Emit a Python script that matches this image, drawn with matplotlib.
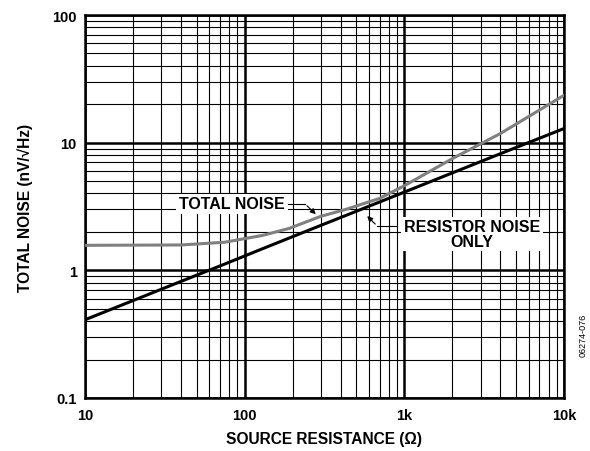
import matplotlib
matplotlib.use("Agg")
import matplotlib.pyplot as plt
from matplotlib.ticker import LogLocator, NullFormatter

plt.rcParams['font.family'] = ['Liberation Sans', 'DejaVu Sans']

# values (source resistance in ohms, noise in nV/rtHz)
resistance = [10, 40, 75, 130, 190, 300, 430, 700, 1000, 2000, 4000, 10000]
resistor_noise = [0.41, 0.82, 1.12, 1.48, 1.79, 2.25, 2.69, 3.43, 4.1, 5.8, 8.2, 12.9]
total_noise = [1.57, 1.58, 1.66, 1.88, 2.13, 2.65, 3.0, 3.66, 4.6, 7.5, 11.8, 23.5]

xticks = [10, 100, 1000, 10000]
xticklabels = ['10', '100', '1k', '10k']
yticks = [0.1, 1, 10, 100]
yticklabels = ['0.1', '1', '10', '100']

fig = plt.figure(figsize=(5.9, 4.52), dpi=100)
ax = fig.add_axes([85/590, 1 - 399/452, 479/590, 383/452])

ax.set_xscale('log')
ax.set_yscale('log')
ax.set_xlim(10, 10000)
ax.set_ylim(0.1, 100)

ax.xaxis.set_minor_locator(LogLocator(base=10, subs=range(2, 10)))
ax.yaxis.set_minor_locator(LogLocator(base=10, subs=range(2, 10)))
ax.xaxis.set_minor_formatter(NullFormatter())
ax.yaxis.set_minor_formatter(NullFormatter())
ax.grid(which='major', color='black', lw=1.8)
ax.grid(which='minor', color='black', lw=0.8)
ax.set_axisbelow(True)
ax.tick_params(which='both', length=0, labelsize=10.5)
ax.tick_params(axis='x', pad=7)
ax.tick_params(axis='y', pad=6)

ax.set_xticks(xticks)
ax.set_xticklabels(xticklabels, fontweight='bold')
ax.set_yticks(yticks)
ax.set_yticklabels(yticklabels, fontweight='bold')

for s in ax.spines.values():
    s.set_linewidth(1.8)

ax.plot(resistance, total_noise, color='#808080', lw=2.2, zorder=3)
ax.plot(resistance, resistor_noise, color='black', lw=2.2, zorder=3)

ax.set_xlabel('SOURCE RESISTANCE (Ω)', fontsize=11.2, fontweight='bold', labelpad=7)
ax.set_ylabel('TOTAL NOISE (nV/√Hz)', fontsize=11.2, fontweight='bold', labelpad=14)

# labels with leader lines
ax.text(0.307, 0.507, 'TOTAL NOISE', transform=ax.transAxes, ha='center', va='center',
        fontsize=11.5, fontweight='bold', zorder=5,
        bbox=dict(facecolor='white', edgecolor='none', pad=2))
ax.plot([0.424, 0.459], [0.507, 0.507], transform=ax.transAxes, color='black', lw=0.8, zorder=5)
ax.annotate('', xy=(0.486, 0.475), xytext=(0.459, 0.507), xycoords='axes fraction',
            textcoords='axes fraction', zorder=5,
            arrowprops=dict(arrowstyle='-|>', color='black', lw=0.8, mutation_scale=8))

ax.text(0.808, 0.428, 'RESISTOR NOISE\nONLY', transform=ax.transAxes, ha='center', va='center',
        fontsize=11.5, fontweight='bold', linespacing=0.95, zorder=5,
        bbox=dict(facecolor='white', edgecolor='none', pad=2))
ax.plot([0.651, 0.610], [0.449, 0.449], transform=ax.transAxes, color='black', lw=0.8, zorder=5)
ax.annotate('', xy=(0.585, 0.480), xytext=(0.610, 0.449), xycoords='axes fraction',
            textcoords='axes fraction', zorder=5,
            arrowprops=dict(arrowstyle='-|>', color='black', lw=0.8, mutation_scale=8))

fig.text(583/590, 1 - 335/452, '06274-076', rotation=90, ha='center', va='center', fontsize=6.5)

fig.savefig('out.png', dpi=100)
